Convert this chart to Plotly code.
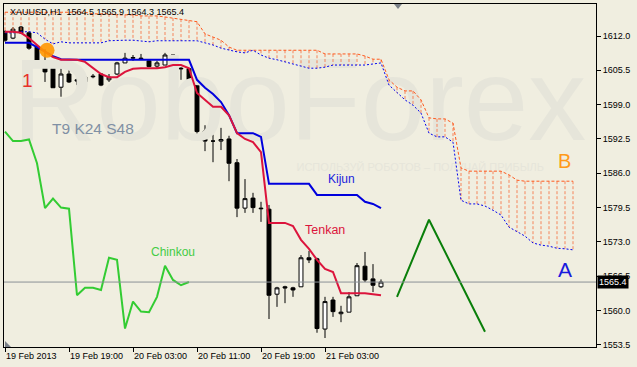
import plotly.graph_objects as go

# ---------------- data ----------------
bar_idx = list(range(48))  # hourly bars from 19 Feb 2013 11:00

opens = [1612.8, 1611.6, 1613.7, 1612.6, 1609.9, 1606.1, 1605.9, 1602.3,
         1604.8, 1603.7, 1603.3, 1604.4, 1604.8, 1603.7, 1604.8, 1606.9,
         1607.8, 1607.8, 1607.3, 1606.3, 1606.5, 1608.4, 1605.9, 1605.8,
         1603.7, 1594.0, 1592.1, 1592.1, 1592.5, 1588.0, 1579.4, 1581.3,
         1579.4, 1579.2, 1563.1, 1564.5, 1564.3, 1564.5, 1570.0, 1569.8,
         1556.5, 1562.0, 1559.4, 1559.7, 1562.8, 1568.4, 1566.0, 1564.5]
highs = [1613.1, 1613.7, 1613.9, 1612.9, 1610.3, 1609.5, 1606.1, 1606.5,
         1606.9, 1605.2, 1604.6, 1604.8, 1605.0, 1604.8, 1607.1, 1608.8,
         1608.4, 1608.6, 1607.5, 1607.3, 1608.8, 1608.4, 1606.1, 1605.8,
         1604.1, 1595.1, 1593.3, 1594.6, 1593.1, 1588.7, 1584.9, 1582.3,
         1580.6, 1580.0, 1564.5, 1564.7, 1564.5, 1570.5, 1571.3, 1570.0,
         1562.6, 1562.6, 1560.9, 1563.5, 1569.0, 1571.1, 1568.8, 1565.9]
lows = [1610.9, 1611.4, 1612.4, 1609.4, 1606.7, 1603.3, 1602.2, 1600.5,
        1603.1, 1602.7, 1603.1, 1604.0, 1602.5, 1603.3, 1604.6, 1606.9,
        1607.3, 1607.6, 1606.1, 1605.8, 1606.5, 1605.8, 1603.7, 1603.7,
        1592.9, 1590.2, 1588.1, 1590.4, 1584.5, 1577.7, 1578.5, 1578.5,
        1576.8, 1558.4, 1560.7, 1561.4, 1562.6, 1564.5, 1569.0, 1555.8,
        1554.8, 1558.8, 1557.8, 1559.7, 1562.8, 1565.4, 1563.5, 1564.3]
closes = [1611.2, 1613.3, 1612.6, 1609.7, 1606.9, 1605.2, 1602.2, 1604.8,
          1603.3, 1603.5, 1604.2, 1604.3, 1602.7, 1604.2, 1606.9, 1607.8,
          1607.9, 1607.7, 1606.2, 1606.9, 1608.4, 1605.8, 1605.8, 1603.7,
          1593.9, 1592.1, 1592.1, 1592.4, 1587.9, 1579.4, 1581.2, 1579.5,
          1579.3, 1562.9, 1564.3, 1564.3, 1563.9, 1570.0, 1569.6, 1556.6,
          1561.7, 1559.8, 1559.7, 1562.6, 1568.5, 1565.8, 1564.8, 1565.4]

tenkan = [1612.8, 1612.8, 1612.6, 1611.6, 1610.3, 1609.0, 1608.0, 1607.5,
          1607.5, 1607.5, 1607.1, 1605.9, 1604.8, 1604.2, 1604.2, 1605.2,
          1605.8, 1605.9, 1605.9, 1605.9, 1606.1, 1606.5, 1606.5, 1605.9,
          1601.2, 1599.9, 1598.6, 1598.6, 1597.0, 1593.6, 1592.5, 1591.9,
          1590.0, 1576.6, 1576.6, 1576.6, 1576.0, 1573.4, 1571.7, 1569.6,
          1567.9, 1567.3, 1563.3, 1563.3, 1563.3, 1563.3, 1563.1, 1562.9]
kijun = [1610.7, 1610.7, 1610.7, 1610.7, 1609.9, 1609.0, 1608.2, 1607.6,
         1607.5, 1607.5, 1607.5, 1607.5, 1607.5, 1607.5, 1607.5, 1607.5,
         1607.5, 1607.5, 1607.5, 1607.5, 1607.5, 1607.5, 1607.5, 1607.5,
         1603.7, 1602.2, 1601.0, 1599.5, 1597.0, 1593.6, 1593.6, 1593.6,
         1592.9, 1584.0, 1584.0, 1584.0, 1584.0, 1584.0, 1584.0, 1581.9,
         1581.9, 1581.9, 1581.9, 1581.9, 1581.9, 1580.6, 1580.2, 1579.4]

# Senkou spans, 72 values (shifted 24 bars forward)
span_a = [1616.5, 1616.5, 1616.5, 1616.5, 1616.5, 1616.5, 1616.5, 1616.5,
          1616.5, 1616.5, 1616.5, 1616.2, 1616.2, 1616.2, 1616.0, 1616.0,
          1616.0, 1615.8, 1615.8, 1615.8, 1615.6, 1615.4, 1615.2, 1615.0,
          1614.7, 1612.4, 1611.8, 1611.2, 1609.9, 1609.3, 1609.3, 1609.3,
          1609.3, 1609.3, 1609.3, 1609.3, 1609.3, 1609.3, 1609.3, 1609.3,
          1608.6, 1608.6, 1608.6, 1608.6, 1608.6, 1608.2, 1607.6, 1607.6,
          1603.7, 1602.3, 1601.6, 1601.6, 1599.9, 1596.5, 1596.3, 1596.3,
          1595.5, 1587.0, 1586.4, 1586.4, 1586.4, 1586.4, 1586.4, 1585.7,
          1584.7, 1584.5, 1584.5, 1584.5, 1584.5, 1584.5, 1584.5, 1584.5]
span_b = [1612.6, 1612.6, 1612.8, 1612.8, 1612.6, 1611.4, 1610.5, 1610.9,
          1610.7, 1610.7, 1610.7, 1610.7, 1610.7, 1611.1, 1611.2, 1611.2,
          1611.2, 1611.1, 1610.9, 1611.1, 1611.1, 1611.1, 1611.1, 1611.1,
          1611.1, 1610.7, 1610.3, 1609.7, 1609.3, 1609.0, 1608.8, 1609.3,
          1608.4, 1607.8, 1607.5, 1607.1, 1606.7, 1606.3, 1605.9, 1605.9,
          1606.1, 1606.5, 1606.5, 1606.5, 1606.5, 1606.5, 1606.7, 1606.9,
          1602.7, 1601.2, 1599.9, 1598.9, 1597.4, 1593.6, 1592.9, 1592.9,
          1591.9, 1580.9, 1580.2, 1580.2, 1579.8, 1579.0, 1578.1, 1575.8,
          1574.9, 1574.1, 1572.8, 1572.4, 1572.2, 1571.8, 1571.7, 1571.5]

chinkou_shift = 24
forecast_idx = [49, 53, 60]
forecast_price = [1562.6, 1577.2, 1556.0]

ytick_vals = [1553.5, 1560.0, 1566.5, 1573.0, 1579.5, 1586.0, 1592.5, 1599.0, 1605.5, 1612.0]
xtick_idx = [0, 8, 16, 24, 32, 40]
xtick_labels = ["19 Feb 2013", "19 Feb 19:00", "20 Feb 03:00", "20 Feb 11:00",
                "20 Feb 19:00", "21 Feb 03:00"]
title_text = "XAUUSD,H1  1564.5 1565.9 1564.3 1565.4"

# ---------------- styling ----------------
BG = "#F0EEE0"
WM = "#E6E5DA"
FONT = "Liberation Sans, Arial, sans-serif"
X_RANGE = [-0.125, 73.875]
Y_RANGE = [1553.10, 1618.06]

fig = go.Figure()

# watermark (behind everything)
fig.add_trace(go.Scatter(
    x=[36.8], y=[1597.8], mode="text", text=["RoboForex"],
    textfont=dict(family=FONT, size=116, color=WM),
    hoverinfo="skip", showlegend=False))
fig.add_trace(go.Scatter(
    x=[51.9], y=[1587.0], mode="text", text=["ИСПОЛЬЗУЙ РОБОТОВ – ПОЛУЧАЙ ПРИБЫЛЬ"],
    textfont=dict(family=FONT, size=11, color=WM),
    hoverinfo="skip", showlegend=False))

# cloud hatch (vertical dashed lines between spans)
n_span = len(span_a)
hx, hy = [], []
for i in range(n_span):
    hx += [i, i, None]
    hy += [span_a[i], span_b[i], None]
fig.add_trace(go.Scatter(x=hx, y=hy, mode="lines",
                         line=dict(color="#F5845A", width=1, dash="3px,2px"),
                         hoverinfo="skip", showlegend=False))
span_x = list(range(n_span))
fig.add_trace(go.Scatter(x=span_x, y=span_a, mode="lines",
                         line=dict(color="#FF5A1E", width=1, dash="3px,2px"),
                         hoverinfo="skip", showlegend=False))
fig.add_trace(go.Scatter(x=span_x, y=span_b, mode="lines",
                         line=dict(color="#0000EE", width=1, dash="2px,2px"),
                         hoverinfo="skip", showlegend=False))

# current price line
fig.add_shape(type="line", xref="paper", x0=0, x1=1, yref="y",
              y0=closes[-1], y1=closes[-1], line=dict(color="#8A9096", width=1))

# chinkou
chinkou_x = [i - chinkou_shift for i in bar_idx[chinkou_shift:]]
chinkou_y = closes[chinkou_shift:]
fig.add_trace(go.Scatter(x=chinkou_x, y=chinkou_y, mode="lines",
                         line=dict(color="#33CC33", width=2),
                         hoverinfo="skip", showlegend=False))

# candles
fig.add_trace(go.Candlestick(
    x=bar_idx, open=opens, high=highs, low=lows, close=closes,
    increasing=dict(line=dict(color="#000000", width=1), fillcolor="#FFFFFF"),
    decreasing=dict(line=dict(color="#000000", width=1), fillcolor="#000000"),
    whiskerwidth=0, showlegend=False, hoverinfo="skip"))

# kijun & tenkan
fig.add_trace(go.Scatter(x=bar_idx, y=kijun, mode="lines",
                         line=dict(color="#0000DD", width=2),
                         hoverinfo="skip", showlegend=False))
fig.add_trace(go.Scatter(x=bar_idx, y=tenkan, mode="lines",
                         line=dict(color="#DC143C", width=2),
                         hoverinfo="skip", showlegend=False))

# forecast zig-zag
fig.add_trace(go.Scatter(x=forecast_idx, y=forecast_price, mode="lines",
                         line=dict(color="#0A7F0A", width=2),
                         hoverinfo="skip", showlegend=False))

# orange marker
fig.add_trace(go.Scatter(x=[5.25], y=[1609.3], mode="markers",
                         marker=dict(color="rgba(255,150,0,0.9)", size=15, line=dict(width=0)),
                         hoverinfo="skip", showlegend=False))

# labels
def lab(x, y, text, color, size, anchor="center"):
    fig.add_annotation(x=x, y=y, xref="x", yref="y", text=text, showarrow=False,
                       font=dict(family=FONT, size=size, color=color), xanchor=anchor)

lab(2.75, 1603.5, "1", "#E8302A", 19)
lab(10.94, 1594.4, "T9 K24 S48", "#8090A4", 15.5)
lab(20.94, 1571.1, "Chinkou", "#44CC44", 12)
lab(42.0, 1584.9, "Kijun", "#2222DD", 12)
lab(39.94, 1575.3, "Tenkan", "#DC143C", 12.5)
lab(69.9, 1588.3, "B", "#FF9A1A", 20)
lab(69.94, 1567.7, "A", "#1A1ADD", 21)

# title
fig.add_annotation(xref="paper", yref="paper", x=4 / 592, y=(347 - 12) / 343,
                   text=title_text, showarrow=False, xanchor="left", yanchor="middle",
                   font=dict(family=FONT, size=9, color="#000000"))

# x tick labels (left aligned at the tick)
for xi, txt in zip(xtick_idx, xtick_labels):
    fig.add_annotation(x=xi, xref="x", yref="paper", y=-9 / 343, text=txt,
                       showarrow=False, xanchor="left", yanchor="middle", xshift=-1,
                       font=dict(family=FONT, size=9, color="#000000"))

# current price box
fig.add_annotation(xref="paper", x=1, xanchor="left", xshift=1, yref="y", y=closes[-1],
                   text="%.1f" % closes[-1], showarrow=False, bgcolor="#000000",
                   borderpad=1, font=dict(family=FONT, size=9, color="#FFFFFF"))

# small gray triangles (chart shift markers)
fig.add_shape(type="path", xref="paper", yref="paper",
              path="M %f %f L %f %f L %f %f Z" % (390 / 592, 1.0, 398 / 592, 1.0,
                                                394 / 592, 1 - 5 / 343),
              fillcolor="#7A8088", line=dict(width=0))
fig.add_shape(type="path", xref="paper", yref="paper",
              path="M %f %f L %f %f L %f %f Z" % (1 / 592, 0.0, 7 / 592, 0.0, 1 / 592, 6 / 343),
              fillcolor="#7A8088", line=dict(width=0))

fig.update_layout(
    width=637, height=367,
    margin=dict(l=4, r=41, t=4, b=20),
    paper_bgcolor=BG, plot_bgcolor=BG,
    showlegend=False,
    font=dict(family=FONT, size=9, color="#000000"),
    xaxis=dict(range=X_RANGE, showgrid=False, zeroline=False, rangeslider=dict(visible=False),
               showline=True, linecolor="#000000", linewidth=1, mirror=True,
               tickvals=xtick_idx, ticktext=[""] * len(xtick_idx), ticks="outside",
               ticklen=4, tickcolor="#000000", showticklabels=False, fixedrange=True),
    yaxis=dict(range=Y_RANGE, side="right", showgrid=False, zeroline=False,
               showline=True, linecolor="#000000", linewidth=1, mirror=True,
               tickvals=ytick_vals, ticktext=["%.1f" % v for v in ytick_vals],
               ticks="outside", ticklen=4, tickcolor="#000000",
               tickfont=dict(family=FONT, size=9, color="#000000"), fixedrange=True),
)

fig.write_html("out.html")
